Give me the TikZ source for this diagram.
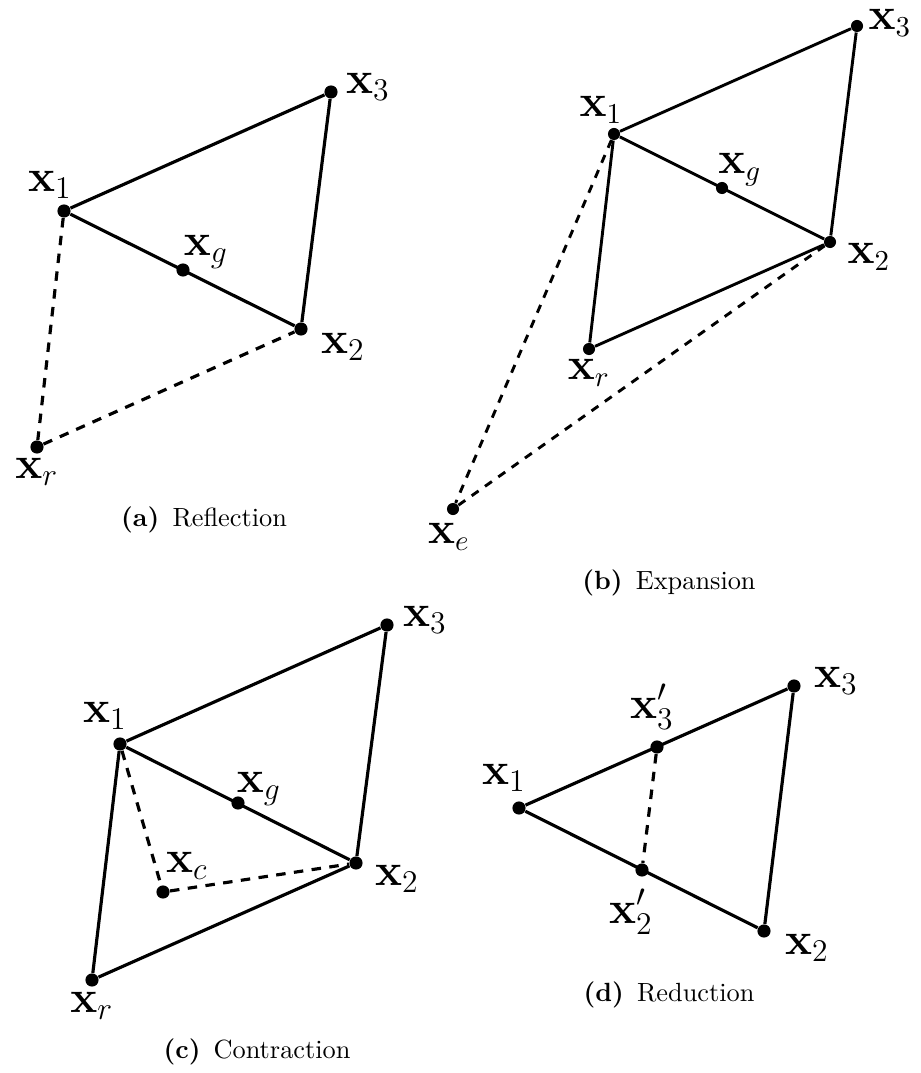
\documentclass[tikz,border=0pt]{standalone}
\usetikzlibrary{calc}
\tikzset{
  ptdot/.style={circle,fill=black,inner sep=0pt,minimum size=5pt},
  sptdot/.style={circle,fill=black,inner sep=0pt,minimum size=4.6pt},
  ptlab/.style={inner sep=0pt,font=\fontsize{17.5}{21}\selectfont},
  sptlab/.style={inner sep=0pt,font=\fontsize{16}{19}\selectfont},
  solidline/.style={line width=1.2pt},
  ssolidline/.style={line width=1.1pt},
  dashline/.style={line width=1.2pt,dash pattern=on 3.6pt off 3.2pt},
  sdashline/.style={line width=1.1pt,dash pattern=on 3.2pt off 3pt},
  captext/.style={inner sep=0pt,font=\normalsize}
}
\begin{document}
\begin{tikzpicture}[x=0.38pt,y=-0.38pt]
\useasboundingbox (0,0) rectangle (920,1073);

% ---------- (a) Reflection ----------
\node[ptdot] (a1) at (64,211) {};
\node[ptdot] (a3) at (331,92) {};
\node[ptdot] (a2) at (301,329) {};
\node[ptdot] (ag) at (183,270) {};
\node[ptdot] (ar) at (37,447) {};
\draw[solidline] (a1) -- (a3) -- (a2) -- (a1);
\draw[dashline] (a1) -- (ar) -- (a2);
\node[ptlab] (a1l) at ($(a1)+(-14,-26)$) {$\mathbf{x}_1$};
\node[ptlab] (a3l) at ($(a3)+(37,-5)$) {$\mathbf{x}_3$};
\node[ptlab] (a2l) at ($(a2)+(42,18)$) {$\mathbf{x}_2$};
\node[ptlab] (agl) at ($(ag)+(23,-18)$) {$\mathbf{x}_g$};
\node[ptlab] (arl) at ($(ar)+(0,25)$) {$\mathbf{x}_r$};
\node[captext] (capa) at (204,520) {\textbf{(a)}\hspace{5pt}Reflection};

% ---------- (b) Expansion ----------
\node[sptdot] (b1) at (614,134) {};
\node[sptdot] (b3) at (857,26) {};
\node[sptdot] (b2) at (830,242) {};
\node[sptdot] (bg) at (722,188) {};
\node[sptdot] (br) at (589,349) {};
\node[sptdot] (be) at (453,509) {};
\draw[ssolidline] (b1) -- (b3) -- (b2) -- (b1);
\draw[ssolidline] (b1) -- (br) -- (b2);
\draw[sdashline] (b1) -- (be) -- (b2);
\node[sptlab] (b1l) at ($(b1)+(-13,-24)$) {$\mathbf{x}_1$};
\node[sptlab] (b3l) at ($(b3)+(33,-3)$) {$\mathbf{x}_3$};
\node[sptlab] (b2l) at ($(b2)+(39,15)$) {$\mathbf{x}_2$};
\node[sptlab] (bgl) at ($(bg)+(18,-18)$) {$\mathbf{x}_g$};
\node[sptlab] (brl) at ($(br)+(0,24)$) {$\mathbf{x}_r$};
\node[sptlab] (bel) at ($(be)+(-4,28)$) {$\mathbf{x}_e$};
\node[captext] (capb) at (669,583) {\textbf{(b)}\hspace{5pt}Expansion};

% ---------- (c) Contraction ----------
\node[ptdot] (c1) at (120,744) {};
\node[ptdot] (c3) at (387,625) {};
\node[ptdot] (c2) at (356,863) {};
\node[ptdot] (cg) at (238,803) {};
\node[ptdot] (cc) at (163,892) {};
\node[ptdot] (cr) at (92,980) {};
\draw[solidline] (c1) -- (c3) -- (c2) -- (c1);
\draw[solidline] (c1) -- (cr) -- (c2);
\draw[dashline] (c1) -- (cc) -- (c2);
\node[ptlab] (c1l) at ($(c1)+(-15,-28)$) {$\mathbf{x}_1$};
\node[ptlab] (c3l) at ($(c3)+(38,-5)$) {$\mathbf{x}_3$};
\node[ptlab] (c2l) at ($(c2)+(41,16)$) {$\mathbf{x}_2$};
\node[ptlab] (cgl) at ($(cg)+(21,-14)$) {$\mathbf{x}_g$};
\node[ptlab] (ccl) at ($(cc)+(24,-26)$) {$\mathbf{x}_c$};
\node[ptlab] (crl) at ($(cr)+(0,26)$) {$\mathbf{x}_r$};
\node[captext] (capc) at (257,1052) {\textbf{(c)}\hspace{5pt}Contraction};

% ---------- (d) Reduction ----------
\node[ptdot] (d1) at (519,808) {};
\node[ptdot] (d3) at (794,686) {};
\node[ptdot] (d2) at (764,931) {};
\node[ptdot] (d3p) at (657,747) {};
\node[ptdot] (d2p) at (642,870) {};
\draw[solidline] (d1) -- (d3) -- (d2) -- (d1);
\draw[dashline] (d3p) -- (d2p);
\node[ptlab] (d1l) at ($(d1)+(-15,-30)$) {$\mathbf{x}_1$};
\node[ptlab] (d3l) at ($(d3)+(42,-5)$) {$\mathbf{x}_3$};
\node[ptlab] (d2l) at ($(d2)+(43,17)$) {$\mathbf{x}_2$};
\node[ptlab] (d3pl) at ($(d3p)+(-5,-40)$) {$\mathbf{x}_3'$};
\node[ptlab] (d2pl) at ($(d2p)+(-11,42)$) {$\mathbf{x}_2'$};
\node[captext] (capd) at (669,995) {\textbf{(d)}\hspace{5pt}Reduction};
\end{tikzpicture}
\end{document}
